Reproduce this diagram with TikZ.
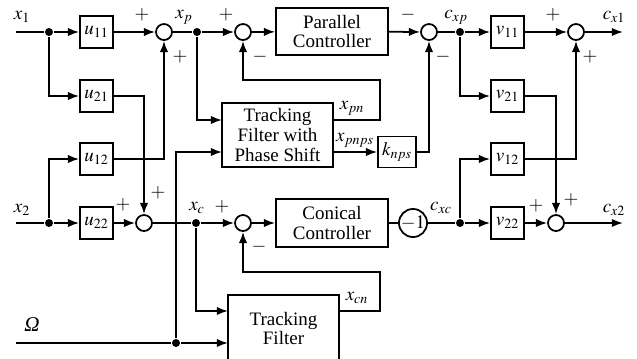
\documentclass[tikz,border=0pt]{standalone}
\usepackage{mathptmx}
\usepackage[no-math]{fontspec}
\setmainfont{Liberation Serif}
\usetikzlibrary{arrows.meta, positioning}

\begin{document}
\begin{tikzpicture}[x=0.025cm, y=-0.025cm, line width=1.25pt,
    >={Latex[length=8pt,width=6pt]},
    every node/.style={font=\fontsize{13.5}{14}\selectfont},
    blk/.style={draw, inner sep=0pt, align=center},
    ublk/.style={blk, minimum width=0.825cm, minimum height=0.8cm},
    sum/.style={draw, circle, minimum size=0.4cm, inner sep=0pt},
    dot/.style={fill, circle, minimum size=0.2cm, inner sep=0pt},
    lbl/.style={inner sep=0pt}]
    \useasboundingbox (0,0) rectangle (637,358);
    \clip (0,0) rectangle (637,358);
    \fill[white] (0,0) rectangle (637,358);

    % 1. Các khối
    \foreach \n/\y in {11/32, 21/96, 12/159, 22/223} {
        \node[ublk] (u\n) at (96.5,\y) {$u_{\n}$};
        \node[ublk] (v\n) at (507.5,\y) {$v_{\n}$};
    }
    \node[blk, minimum width=2.8cm, minimum height=1.175cm] (pc) at (332,31.5) {Parallel\\Controller};
    \node[blk, minimum width=2.8cm, minimum height=1.2cm] (cc) at (332,223) {Conical\\Controller};
    \node[blk, minimum width=2.775cm, minimum height=1.6cm] (tfps) at (277.5,135) {Tracking\\Filter with\\Phase Shift};
    \node[blk, minimum width=0.95cm, minimum height=0.775cm] (knps) at (397,152) {$k_{nps}$};
    \node[blk, minimum width=2.775cm, minimum height=1.675cm] (tf) at (283.5,328.5) {Tracking\\Filter};
    \node[sum, minimum size=0.6cm] (m1) at (413,223) {$-1$};

    % 2. Nút cộng và điểm rẽ nhánh
    \foreach \n/\x/\y in {s1/164/32, s2/243/32, s3/429/32, s4/576/32,
                          s5/144/223, s6/243/223, s7/556/223} {
        \node[sum] (\n) at (\x,\y) {};
    }
    \foreach \n/\x/\y in {d1/49/32, dp/197/32, dcp/460/32, d2/49/223,
                          dc/196/223, dcx/460/223, dom/176/343} {
        \node[dot] (\n) at (\x,\y) {};
    }
    \foreach \s/\x/\y [count=\i] in {+/142/15, +/180/57, +/226/15, -/260/57,
                                     -/408/15, -/443/57, +/553/15, +/590/57,
                                     +/123/205, +/158/193, +/222/207, -/259/247,
                                     +/536/206, +/571/200} {
        \node[lbl] (g\i) at (\x,\y) {$\s$};
    }

    % 3. Tín hiệu
    \coordinate (in1) at (16,32);
    \coordinate (in2) at (16,223);
    \coordinate (om) at (16,343);
    \coordinate (out1) at (623,32);
    \coordinate (out2) at (623,223);
    \coordinate (a1) at (222,120);
    \coordinate (a2) at (222,152);
    \coordinate (b1) at (333,120);
    \coordinate (b2) at (333,152);
    \coordinate (c1) at (228,311);
    \coordinate (c2) at (228,343);
    \coordinate (c3) at (339,311);
    \coordinate (r1) at (380,80);
    \coordinate (r2) at (380,272);

    \node[lbl] (lx1) at (22,17) {$x_1$};
    \node[lbl] (lx2) at (22,210) {$x_2$};
    \node[lbl] (lxp) at (184,17) {$x_p$};
    \node[lbl] (lxc) at (197,208) {$x_c$};
    \node[lbl] (lcxp) at (456,17) {$c_{xp}$};
    \node[lbl] (lcxc) at (441,208) {$c_{xc}$};
    \node[lbl] (lcx1) at (614,17) {$c_{x1}$};
    \node[lbl] (lcx2) at (614,210) {$c_{x2}$};
    \node[lbl] (lxpn) at (352,108) {$x_{pn}$};
    \node[lbl] (lxpnps) at (355,140) {$x_{pnps}$};
    \node[lbl] (lxcn) at (357,298) {$x_{cn}$};
    \node[lbl, font=\fontsize{15}{15}\selectfont] (lom) at (32,325) {\itshape Ω};

    % 4. Đường nối
    \draw (in1) -- (d1);
    \draw[->] (d1) -- (u11);
    \draw[->] (u11) -- (s1);
    \draw (s1) -- (dp);
    \draw[->] (dp) -- (s2);
    \draw[->] (s2) -- (pc);
    \draw[->] (pc) -- (s3);
    \draw (s3) -- (dcp);
    \draw[->] (dcp) -- (v11);
    \draw[->] (v11) -- (s4);
    \draw[->] (s4) -- (out1);

    \draw (in2) -- (d2);
    \draw[->] (d2) -- (u22);
    \draw[->] (u22) -- (s5);
    \draw (s5) -- (dc);
    \draw[->] (dc) -- (s6);
    \draw[->] (s6) -- (cc);
    \draw (cc) -- (m1);
    \draw (m1) -- (dcx);
    \draw[->] (dcx) -- (v22);
    \draw[->] (v22) -- (s7);
    \draw[->] (s7) -- (out2);

    \draw[->] (d1) |- (u21);
    \draw[->] (u21) -| (s5);
    \draw[->] (d2) |- (u12);
    \draw[->] (u12) -| (s1);
    \draw[->] (dcp) |- (v21);
    \draw[->] (v21) -| (s7);
    \draw[->] (dcx) |- (v12);
    \draw[->] (v12) -| (s4);

    \draw[->] (dp) |- (a1);
    \draw[->] (dom) |- (a2);
    \draw (om) -- (dom);
    \draw[->] (dom) -- (c2);
    \draw[->] (dc) |- (c1);
    \draw[->] (b1) -| (r1) -| (s2);
    \draw[->] (b2) -- (knps);
    \draw[->] (knps) -| (s3);
    \draw[->] (c3) -| (r2) -| (s6);
\end{tikzpicture}
\end{document}
